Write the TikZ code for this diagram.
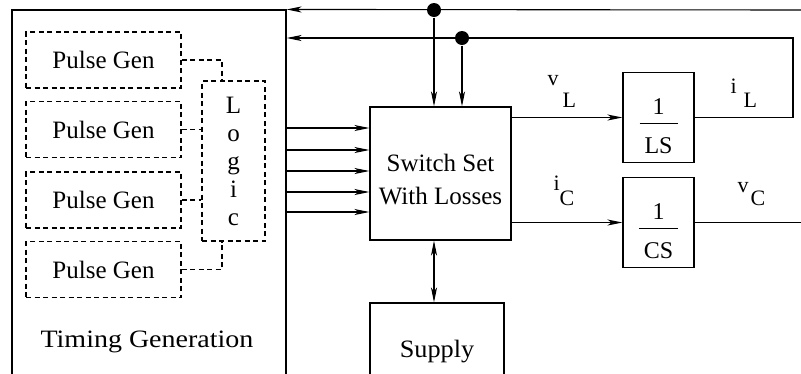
\documentclass[tikz,border=0pt]{standalone}
\usepackage{fontspec}
\setmainfont{Liberation Serif}
\usetikzlibrary{arrows.meta}

\setlength{\arrayrulewidth}{1.1pt}
\newcommand{\fracbox}[1]{\begin{tabular}{@{\hspace{5pt}}c@{\hspace{5pt}}}1\\\hline\rule{0pt}{30pt}#1\end{tabular}}

\begin{document}
\begin{tikzpicture}[x=1pt, y=-1pt, >={Stealth[length=15pt, width=6pt, inset=4pt]}, line width=1.1pt]

	% ================= 1. styles =================
	\tikzset{
		blk/.style={draw, rectangle, inner sep=0pt, font=\fontsize{25}{33}\selectfont},
		dashline/.style={dash pattern=on 5pt off 3.5pt},
		pulsebox/.style={blk, dashline, minimum width=155pt, minimum height=56pt},
		intbox/.style={blk, minimum width=71pt, minimum height=90pt},
		fractext/.style={inner sep=0pt, font=\fontsize{24}{28}\selectfont},
		sig/.style={anchor=base west, inner sep=0pt, font=\fontsize{22}{24}\selectfont},
		dot/.style={circle, fill, inner sep=0pt, minimum size=14pt}
	}

	\clip (0,0) rectangle (801,373);

	% ================= 2. timing generation block =================
	\node[blk, minimum width=274pt, minimum height=390pt] (timing) at (149,205) {};
	\node[anchor=base, inner sep=0pt, font=\fontsize{25}{28}\selectfont] (tglabel) at (147,347)
		{\scalebox{1.12}[1]{Timing Generation}};

	\foreach \y [count=\i] in {60,129.5,200,269.5}
		\node[pulsebox] (pg\i) at (103.5,\y) {Pulse Gen};

	\node[blk, dashline, minimum width=63pt, minimum height=160pt, align=center,
		font=\fontsize{25}{28}\selectfont] (logic) at (233.5,161) {L\\o\\g\\i\\c};

	% pulse generators into the logic
	\draw[dashline] (pg1.east) -| ([xshift=-11.5pt]logic.north);
	\draw[dashline] (pg2.east) -- (logic.west |- pg2.east);
	\draw[dashline] (pg3.east) -- (logic.west |- pg3.east);
	\draw[dashline] (pg4.east) -| ([xshift=-11.5pt]logic.south);

	% ================= 3. switch set, supply, integrators =================
	\node[blk, minimum width=141pt, minimum height=133pt, align=center] (sw) at (440.5,173.5)
		{\rule{0pt}{30pt}Switch Set\\With Losses};
	\node[blk, minimum width=134pt, minimum height=98pt] (supply) at (437,352) {\scalebox{1.05}[1]{Supply}};

	\node[intbox] (ls) at (658.5,117.5) {};
	\node[fractext] (lsfrac) at ([yshift=-11pt]ls.center) {\fracbox{LS}};
	\node[intbox] (cs) at (658.5,222.5) {};
	\node[fractext] (csfrac) at ([yshift=-11pt]cs.center) {\fracbox{CS}};

	% ================= 4. feedback buses =================
	\coordinate (busA) at (801,10);
	\coordinate (fbR) at (793,38);
	\node[dot] (d1) at (434,10) {};
	\node[dot] (d2) at (462,38) {};

	\draw[->] (busA) -- (timing.north east);
	\draw[->] (ls.east) -| (fbR) -- (fbR -| timing.east);
	\draw[->] (d1) -- (d1 |- sw.north);
	\draw[->] (d2) -- (d2 |- sw.north);

	% ================= 5. gate signals and outputs =================
	\foreach \y in {128,150,171,192,212}
		\draw[->] (timing.east |- 0,\y) -- (sw.west |- 0,\y);

	\draw[->] (sw.east |- ls.west) -- (ls.west);
	\draw[->] (sw.east |- cs.west) -- (cs.west);
	\coordinate (vCend) at (801,222.5);
	\draw (cs.east) -- (vCend);

	\draw[<->] (d1 |- sw.south) -- (d1 |- supply.north);

	% signal names
	\node[sig] (vL) at (547,107) {\raisebox{22pt}{v}\hspace{4pt}L};
	\node[sig] (iL) at (730,107) {\raisebox{14pt}{i}\hspace{7pt}L};
	\node[sig] (iC) at (553,205) {\raisebox{15pt}{i}C};
	\node[sig] (vC) at (737,205) {\raisebox{13pt}{v}\hspace{2pt}C};

\end{tikzpicture}
\end{document}
